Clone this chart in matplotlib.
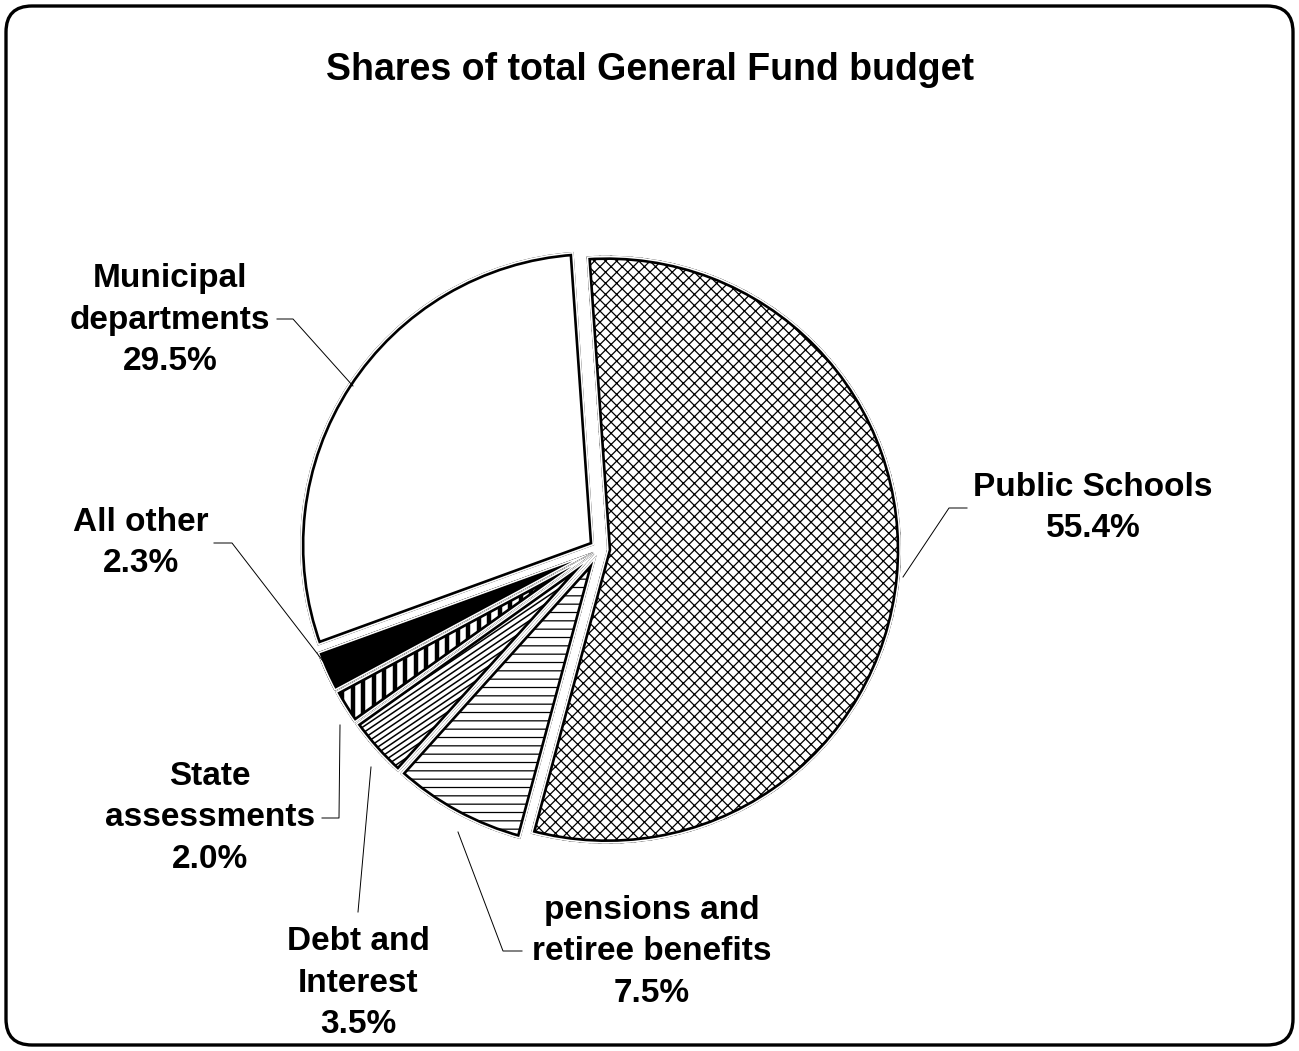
import numpy as np
import matplotlib
matplotlib.use("Agg")
import matplotlib.pyplot as plt
from matplotlib.patches import FancyBboxPatch, Wedge
from matplotlib.collections import LineCollection

plt.rcParams["font.family"] = ["Liberation Sans", "DejaVu Sans"]
plt.rcParams["hatch.linewidth"] = 0.9

# data (clockwise from the top)
categories = ["Public Schools", "pensions and\nretiree benefits", "Debt and\nInterest",
              "State\nassessments", "All other", "Municipal\ndepartments"]
shares = [55.4, 7.5, 3.5, 2.0, 2.3, 29.5]
share_labels = ["55.4%", "7.5%", "3.5%", "2.0%", "2.3%", "29.5%"]
title = "Shares of total General Fund budget"

W, H = 1299, 1051
fig = plt.figure(figsize=(W / 100, H / 100), dpi=100)
ax = fig.add_axes([0, 0, 1, 1])


def py(y):
    # pixel row (from top) to data y
    return H - y


# rounded frame
frame = FancyBboxPatch((6, 6), W - 12, H - 12,
                       boxstyle="round,pad=0,rounding_size=26",
                       fc="white", ec="black", lw=2.4, zorder=0)
ax.add_patch(frame)

ax.text(650, py(70), title, ha="center", va="center",
        fontsize=27, fontweight="bold")

center = (600, py(549))
radius = 294
wedges, _ = ax.pie(shares, startangle=94, counterclock=False,
                   center=center, radius=radius,
                   explode=[7] * len(shares),   # explode is in data units (px)
                   wedgeprops=dict(edgecolor="none", linewidth=0),
                   colors=["white", "white", "white", "white", "black", "white"],
                   frame=True)
ax.set_xlim(0, W)
ax.set_ylim(0, H)
ax.set_aspect("equal")
ax.axis("off")

wedges[0].set_hatch("xxx")
wedges[0].set_edgecolor("black")
wedges[0].set_linewidth(0)
wedges[1].set_hatch("--")
wedges[1].set_edgecolor("black")
wedges[1].set_linewidth(0)


def clipped_lines(wedge, angle_deg, spacing, lw):
    cx, cy = wedge.center
    r = wedge.r
    a = np.deg2rad(angle_deg)
    d = np.array([np.cos(a), np.sin(a)])
    n = np.array([-d[1], d[0]])
    segs = []
    for off in np.arange(-r, r, spacing):
        p = np.array([cx, cy]) + n * off
        segs.append([p - d * r * 1.2, p + d * r * 1.2])
    lc = LineCollection(segs, colors="black", linewidths=lw, zorder=3)
    ax.add_collection(lc)
    lc.set_clip_path(wedge)


# debt and interest: dense lines running along the wedge
clipped_lines(wedges[2], 34, 5.0, 1.1)
# state assessments: bold vertical bars
clipped_lines(wedges[3], 90, 10.5, 3.2)

# outlines: black border inset from the edge with a thin white margin,
# clipped to each wedge so neighbouring slices get a white gap
for w in wedges:
    for col, lw, z in [("black", 6.2, 4), ("white", 2.4, 5)]:
        ow = Wedge(w.center, w.r, w.theta1, w.theta2, fill=False,
                   ec=col, lw=lw, zorder=z, joinstyle="miter")
        ax.add_patch(ow)
        ow.set_clip_path(w)

fs = 24
label_pos = [(1093, 508), (652, 952), (358, 983), (210, 818), (141, 543), (170, 320)]
leaders = [
    [(967, 508), (949, 508), (903, 577)],
    [(522, 951), (503, 951), (458, 832)],
    [(358, 912), (371, 767)],
    [(322, 818), (339, 818), (340, 725)],
    [(214, 543), (232, 543), (326, 665)],
    [(277, 319), (293, 319), (353, 386)],
]
for name, pct, (lx, ly), pts in zip(categories, share_labels, label_pos, leaders):
    ax.text(lx, py(ly), name + "\n" + pct, ha="center", va="center",
            fontsize=fs, fontweight="bold", linespacing=1.42, zorder=6)
    xs = [p[0] for p in pts]
    ys = [py(p[1]) for p in pts]
    ax.plot(xs, ys, color="black", lw=0.7, zorder=6)

fig.savefig("out.png", dpi=100)
